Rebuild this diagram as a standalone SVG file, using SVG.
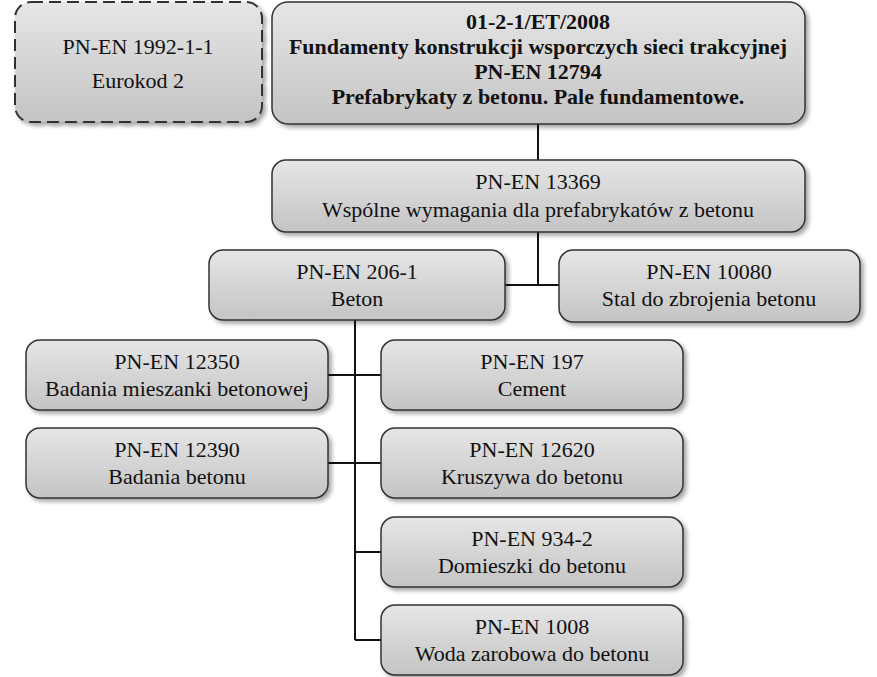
<svg xmlns="http://www.w3.org/2000/svg" width="877" height="677" viewBox="0 0 877 677">
<defs>
<linearGradient id="g" x1="0" y1="0" x2="0" y2="1"><stop offset="0" stop-color="#e6e6e6"/><stop offset="1" stop-color="#c4c4c4"/></linearGradient>
<filter id="s" x="-5%" y="-5%" width="115%" height="130%"><feDropShadow dx="3" dy="3" stdDeviation="2" flood-color="#000" flood-opacity="0.35"/></filter>
</defs>
<style>
.b{fill:url(#g);stroke:#333;stroke-width:1.5;filter:url(#s)}
.d{stroke-dasharray:12,6;stroke-width:2}
text{font-family:"Liberation Serif",serif;font-size:22px;fill:#111;text-anchor:middle}
.t{font-weight:bold}
.c{stroke:#111;stroke-width:2;fill:none}
</style>
<rect width="877" height="677" fill="#fff"/>
<g id="connectors">
<path class="c" d="M538 124V160M538 232V285M505 285H559M355 320V640M328 375H381M328 463H381M355 552H381M355 640H381"/>
</g>
<g id="eurokod"><rect class="b d" x="15" y="2" width="247" height="120" rx="16"/><text x="138" y="54">PN-EN 1992-1-1</text><text x="138" y="88">Eurokod 2</text></g>
<g id="top"><rect class="b" x="272" y="2" width="533" height="122" rx="16"/>
<text class="t" x="538" y="29">01-2-1/ET/2008</text><text class="t" x="538" y="54">Fundamenty konstrukcji wsporczych sieci trakcyjnej</text><text class="t" x="538" y="79">PN-EN 12794</text><text class="t" x="538" y="104">Prefabrykaty z betonu. Pale fundamentowe.</text></g>
<g id="n13369"><rect class="b" x="272" y="160" width="533" height="72" rx="14"/><text x="538" y="189">PN-EN 13369</text><text x="538" y="217">Wspólne wymagania dla prefabrykatów z betonu</text></g>
<g id="n206"><rect class="b" x="209" y="250" width="296" height="70" rx="14"/><text x="357" y="279">PN-EN 206-1</text><text x="357" y="306">Beton</text></g>
<g id="n10080"><rect class="b" x="559" y="250" width="301" height="72" rx="14"/><text x="709" y="279">PN-EN 10080</text><text x="709" y="306">Stal do zbrojenia betonu</text></g>
<g id="n12350"><rect class="b" x="26" y="340" width="302" height="70" rx="14"/><text x="177" y="369">PN-EN 12350</text><text x="177" y="396">Badania mieszanki betonowej</text></g>
<g id="n197"><rect class="b" x="381" y="340" width="302" height="70" rx="14"/><text x="532" y="369">PN-EN 197</text><text x="532" y="396">Cement</text></g>
<g id="n12390"><rect class="b" x="26" y="428" width="302" height="70" rx="14"/><text x="177" y="457">PN-EN 12390</text><text x="177" y="484">Badania betonu</text></g>
<g id="n12620"><rect class="b" x="381" y="428" width="302" height="70" rx="14"/><text x="532" y="457">PN-EN 12620</text><text x="532" y="484">Kruszywa do betonu</text></g>
<g id="n934"><rect class="b" x="381" y="517" width="302" height="70" rx="14"/><text x="532" y="546">PN-EN 934-2</text><text x="532" y="573">Domieszki do betonu</text></g>
<g id="n1008"><rect class="b" x="381" y="605" width="302" height="70" rx="14"/><text x="532" y="634">PN-EN 1008</text><text x="532" y="661">Woda zarobowa do betonu</text></g>
</svg>
